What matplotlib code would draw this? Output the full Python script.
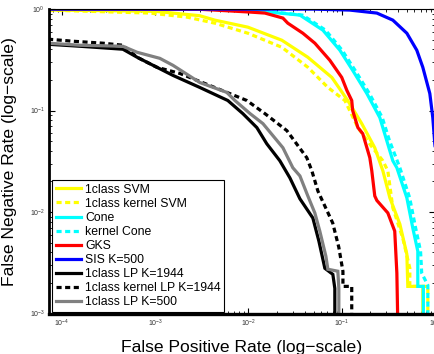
import matplotlib
matplotlib.use("Agg")
import matplotlib.pyplot as plt
from matplotlib.ticker import LogLocator, NullFormatter

plt.rcParams['font.family'] = ['Liberation Sans', 'DejaVu Sans']

# ---------------- data (FPR, FNR) ----------------
svm_fpr = [7.1e-5, 1e-3, 3e-3, 4.36e-3, 9.86e-3, 0.0228, 0.0433, 0.0783, 0.116, 0.164, 0.226, 0.276, 0.328, 0.420, 0.499, 0.511, 0.740, 0.740]
svm_fnr = [0.98, 0.95, 0.86, 0.778, 0.663, 0.493, 0.335, 0.212, 0.1256, 0.0743, 0.0430, 0.0255, 0.0138, 0.0076, 0.00384, 0.00185, 0.00185, 0.0008]

ksvm_fpr = [7.1e-5, 8.8e-4, 2.19e-3, 4.36e-3, 9.86e-3, 0.0228, 0.0433, 0.0710, 0.108, 0.149, 0.210, 0.276, 0.312, 0.353, 0.452, 0.537, 0.537, 0.838, 0.838]
ksvm_fnr = [0.977, 0.913, 0.833, 0.726, 0.578, 0.420, 0.267, 0.169, 0.1256, 0.0679, 0.044, 0.032, 0.0255, 0.011, 0.0055, 0.0028, 0.00185, 0.00185, 0.0008]

cone_fpr = [7.1e-5, 5e-3, 0.0104, 0.0356, 0.0627, 0.0955, 0.131, 0.186, 0.256, 0.304, 0.353, 0.390, 0.499, 0.578, 0.654, 0.654, 0.75, 0.75]
cone_fnr = [1.0, 0.995, 0.977, 0.872, 0.620, 0.393, 0.249, 0.147, 0.0852, 0.0505, 0.032, 0.0273, 0.0138, 0.00695, 0.00411, 0.00185, 0.00185, 0.0008]

kcone_fpr = [7.1e-5, 5e-3, 0.0115, 0.038, 0.067, 0.101, 0.139, 0.198, 0.272, 0.325, 0.42, 0.535, 0.62, 0.70, 0.72, 0.838, 0.838]
kcone_fnr = [1.0, 0.997, 0.977, 0.872, 0.620, 0.393, 0.249, 0.147, 0.0852, 0.0505, 0.0273, 0.0138, 0.00695, 0.00411, 0.0025, 0.0019, 0.0008]

gks_fpr = [7.1e-5, 3e-3, 4.36e-3, 0.0104, 0.0150, 0.0234, 0.0264, 0.0383, 0.0515, 0.0745, 0.100, 0.1135, 0.128, 0.131, 0.149, 0.168, 0.200, 0.210, 0.226, 0.238, 0.312, 0.37, 0.390, 0.399]
gks_fnr = [1.0, 0.995, 0.977, 0.934, 0.913, 0.815, 0.726, 0.578, 0.461, 0.313, 0.212, 0.158, 0.1256, 0.100, 0.0679, 0.0592, 0.0343, 0.0255, 0.0144, 0.0130, 0.0098, 0.00648, 0.0025, 0.0008]

sis_fpr = [7.1e-5, 0.05, 0.122, 0.238, 0.353, 0.499, 0.638, 0.740, 0.880, 0.947, 0.995, 1.05]
sis_fnr = [1.0, 0.999, 0.977, 0.913, 0.778, 0.578, 0.393, 0.267, 0.147, 0.0852, 0.0471, 0.03]

lp_fpr = [7.1e-5, 1.56e-4, 4.5e-4, 6.4e-4, 1.55e-3, 3.0e-3, 6.0e-3, 8.7e-3, 0.0123, 0.0157, 0.0217, 0.0278, 0.0356, 0.0490, 0.0569, 0.0659, 0.0803, 0.0843, 0.0843]
lp_fnr = [0.450, 0.430, 0.402, 0.335, 0.222, 0.169, 0.1256, 0.0933, 0.0679, 0.0471, 0.0320, 0.0217, 0.0135, 0.00873, 0.00516, 0.00279, 0.00243, 0.00177, 0.0008]

klp_fpr = [7.1e-5, 1.31e-4, 2.75e-4, 4.5e-4, 6.4e-4, 1.04e-3, 1.84e-3, 6.3e-3, 9.6e-3, 0.0150, 0.0258, 0.0422, 0.0478, 0.0555, 0.080, 0.093, 0.103, 0.103, 0.128, 0.128]
klp_fnr = [0.505, 0.482, 0.461, 0.440, 0.335, 0.267, 0.232, 0.147, 0.1256, 0.0933, 0.0634, 0.0343, 0.0255, 0.0161, 0.0078, 0.0045, 0.0026, 0.00185, 0.00185, 0.0008]

lp500_fpr = [7.1e-5, 1.56e-4, 4.5e-4, 6.4e-4, 1.12e-3, 1.55e-3, 3.0e-3, 5.86e-3, 7.15e-3, 0.0104, 0.0143, 0.0234, 0.0299, 0.0356, 0.0433, 0.0515, 0.0582, 0.0676, 0.0710, 0.0908, 0.0931, 0.0931]
lp500_fnr = [0.461, 0.440, 0.430, 0.375, 0.327, 0.279, 0.189, 0.151, 0.1256, 0.0933, 0.0743, 0.0430, 0.0273, 0.0227, 0.0144, 0.00977, 0.00648, 0.00367, 0.00273, 0.00261, 0.00177, 0.0008]

labels = ['1class SVM', '1class kernel SVM', 'Cone', 'kernel Cone', 'GKS', 'SIS K=500',
          '1class LP K=1944', '1class kernel LP K=1944', '1class LP K=500']

# ---------------- figure ----------------
fig = plt.figure(figsize=(4.35, 3.54), dpi=100)
ax = fig.add_axes([0.1126, 0.1144, 0.8874, 0.860])

lw = 2.3
dash = (0, (1.6, 1.1))
series = [
    (svm_fpr, svm_fnr, (1, 1, 0), '-'),
    (ksvm_fpr, ksvm_fnr, (1, 1, 0), dash),
    (cone_fpr, cone_fnr, (0, 1, 1), '-'),
    (kcone_fpr, kcone_fnr, (0, 1, 1), dash),
    (gks_fpr, gks_fnr, (1, 0, 0), '-'),
    (sis_fpr, sis_fnr, (0, 0, 1), '-'),
    (lp_fpr, lp_fnr, (0, 0, 0), '-'),
    (klp_fpr, klp_fnr, (0, 0, 0), dash),
    (lp500_fpr, lp500_fnr, (0.5, 0.5, 0.5), '-'),
]
for (xs, ys, c, ls), lab in zip(series, labels):
    ax.plot(xs, ys, color=c, linestyle=ls, linewidth=lw, label=lab,
            solid_joinstyle='miter', dash_capstyle='butt')

ax.set_xscale('log')
ax.set_yscale('log')
ax.set_xlim(7.26e-5, 1.0)
ax.set_ylim(1e-3, 1.0)

ax.xaxis.set_major_locator(LogLocator(base=10, numticks=10))
ax.yaxis.set_major_locator(LogLocator(base=10, numticks=10))
ax.xaxis.set_minor_locator(LogLocator(base=10, subs=range(2, 10), numticks=20))
ax.yaxis.set_minor_locator(LogLocator(base=10, subs=range(2, 10), numticks=20))
ax.xaxis.set_minor_formatter(NullFormatter())
ax.yaxis.set_minor_formatter(NullFormatter())

ax.tick_params(which='both', direction='in', top=True, right=True, labelsize=5,
               labelcolor='#333333', pad=3)
ax.tick_params(which='major', length=4, width=0.8)
ax.tick_params(which='minor', length=2, width=0.6)

ax.spines['left'].set_linewidth(2.0)
ax.spines['bottom'].set_linewidth(2.4)
ax.spines['top'].set_linewidth(0.8)
ax.spines['right'].set_visible(False)

ax.set_xlabel('False Positive Rate (log\u2212scale)', fontsize=12.6)
ax.set_ylabel('False Negative Rate (log\u2212scale)', fontsize=12.6)
ax.xaxis.set_label_coords(0.5, -0.087)
ax.yaxis.set_label_coords(-0.082, 0.5)

leg = ax.legend(loc='lower left', bbox_to_anchor=(0.008, 0.005), borderaxespad=0,
                fontsize=8.8, frameon=True, fancybox=False, framealpha=1,
                edgecolor='black', handlelength=2.1, handletextpad=0.3,
                labelspacing=0.17, borderpad=0.3)
leg.get_frame().set_linewidth(0.8)

fig.savefig('out.png', dpi=100)
